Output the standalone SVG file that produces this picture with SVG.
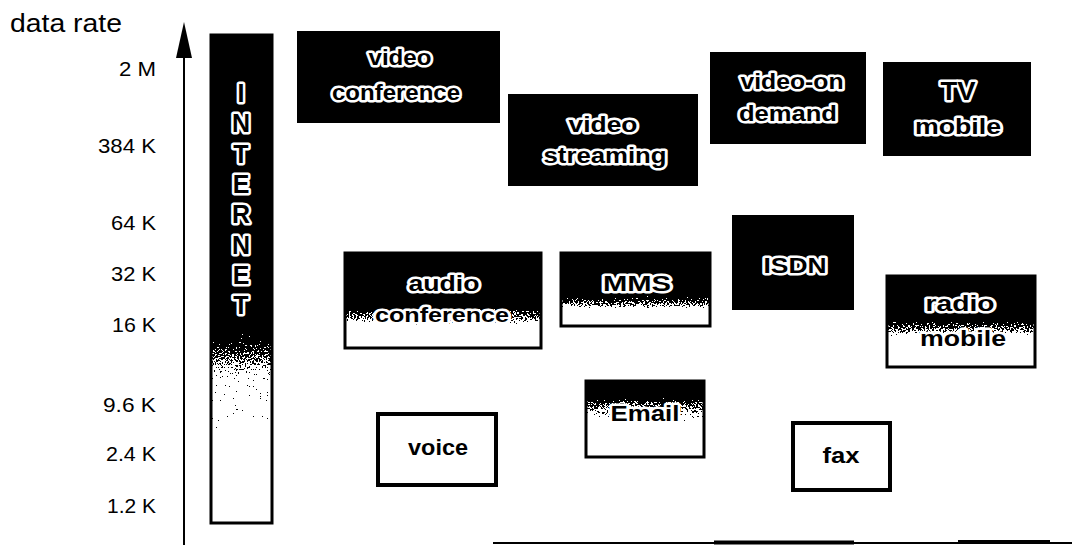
<svg xmlns="http://www.w3.org/2000/svg" width="1072" height="545" viewBox="0 0 1072 545">
  <style>
    .tick { font-family: "Liberation Sans", Arial, sans-serif; font-size: 20px; fill: #000; text-anchor: end; }
    .title { font-family: "Liberation Sans", Arial, sans-serif; font-size: 26px; fill: #000; }
    .lbl { font-family: "Liberation Sans", Arial, sans-serif; font-weight: bold; font-size: 22px; text-anchor: middle;
           fill: #000; stroke: #fff; stroke-width: 5; stroke-linejoin: round; paint-order: stroke; }
    .big { font-size: 25px; }
    .plain { font-family: "Liberation Sans", Arial, sans-serif; font-weight: bold; font-size: 22px; text-anchor: middle; fill: #000; }
    .dark { fill: #000; }
    .frame { fill: none; stroke: #000; stroke-width: 3; }
    .open { fill: #fff; stroke: #000; stroke-width: 4; }
    .axis { stroke: #000; stroke-width: 2; fill: none; }
  </style>
  <defs>
    <!-- dark-to-light fills for the services that span two rate bands -->
    <linearGradient id="gInternet" x1="0" y1="0" x2="0" y2="1">
      <stop offset="0" stop-color="#000"/>
      <stop offset="0.595" stop-color="#000"/>
      <stop offset="0.615" stop-color="#333"/>
      <stop offset="0.65" stop-color="#666"/>
      <stop offset="0.68" stop-color="#999"/>
      <stop offset="0.70" stop-color="#b5b5b5"/>
      <stop offset="0.80" stop-color="#c4c4c4"/>
      <stop offset="0.84" stop-color="#fff"/>
      <stop offset="1" stop-color="#fff"/>
    </linearGradient>
    <linearGradient id="gAudio" x1="0" y1="0" x2="0" y2="1">
      <stop offset="0.54" stop-color="#000"/>
      <stop offset="0.61" stop-color="#595959"/>
      <stop offset="0.70" stop-color="#8c8c8c"/>
      <stop offset="0.79" stop-color="#fff"/>
    </linearGradient>
    <linearGradient id="gMms" x1="0" y1="0" x2="0" y2="1">
      <stop offset="0.56" stop-color="#000"/>
      <stop offset="0.63" stop-color="#595959"/>
      <stop offset="0.72" stop-color="#8c8c8c"/>
      <stop offset="0.81" stop-color="#fff"/>
    </linearGradient>
    <linearGradient id="gRadio" x1="0" y1="0" x2="0" y2="1">
      <stop offset="0.44" stop-color="#000"/>
      <stop offset="0.52" stop-color="#595959"/>
      <stop offset="0.61" stop-color="#8c8c8c"/>
      <stop offset="0.70" stop-color="#fff"/>
    </linearGradient>
    <linearGradient id="gEmail" x1="0" y1="0" x2="0" y2="1">
      <stop offset="0.18" stop-color="#000"/>
      <stop offset="0.28" stop-color="#666"/>
      <stop offset="0.45" stop-color="#a6a6a6"/>
      <stop offset="0.62" stop-color="#fff"/>
    </linearGradient>
    <!-- threshold the grey ramp against noise to get a halftone grain -->
    <filter id="grain" x="0" y="0" width="1" height="1" color-interpolation-filters="sRGB">
      <feTurbulence type="fractalNoise" baseFrequency="0.55" numOctaves="2" seed="7" result="noise"/>
      <feColorMatrix in="noise" type="matrix"
        values="-1 0 0 0 1  -1 0 0 0 1  -1 0 0 0 1  0 0 0 0 1" result="inv"/>
      <feComposite in="SourceGraphic" in2="inv" operator="arithmetic" k1="0" k2="1" k3="1" k4="-0.5" result="sum"/>
      <feComponentTransfer in="sum">
        <feFuncR type="discrete" tableValues="0 1"/>
        <feFuncG type="discrete" tableValues="0 1"/>
        <feFuncB type="discrete" tableValues="0 1"/>
        <feFuncA type="linear" slope="0" intercept="1"/>
      </feComponentTransfer>
    </filter>
  </defs>

  <!-- vertical axis with rate scale -->
  <g id="axis">
    <text class="title" x="10" y="32" textLength="112" lengthAdjust="spacingAndGlyphs">data rate</text>
    <line class="axis" x1="184" y1="50" x2="184" y2="545"/>
    <polygon points="184,22 192,58 176,58" fill="#000"/>
    <text class="tick" x="156" y="76" textLength="37" lengthAdjust="spacingAndGlyphs">2 M</text>
    <text class="tick" x="156" y="153" textLength="58" lengthAdjust="spacingAndGlyphs">384 K</text>
    <text class="tick" x="156" y="230" textLength="45" lengthAdjust="spacingAndGlyphs">64 K</text>
    <text class="tick" x="156" y="281" textLength="45" lengthAdjust="spacingAndGlyphs">32 K</text>
    <text class="tick" x="156" y="332" textLength="44" lengthAdjust="spacingAndGlyphs">16 K</text>
    <text class="tick" x="156" y="412" textLength="53" lengthAdjust="spacingAndGlyphs">9.6 K</text>
    <text class="tick" x="156" y="461" textLength="50" lengthAdjust="spacingAndGlyphs">2.4 K</text>
    <text class="tick" x="156" y="513" textLength="49" lengthAdjust="spacingAndGlyphs">1.2 K</text>
  </g>

  <!-- baseline along the bottom -->
  <g id="baseline">
    <line x1="493" y1="543" x2="1072" y2="543" stroke="#000" stroke-width="2"/>
    <line x1="714" y1="542.5" x2="854" y2="542.5" stroke="#000" stroke-width="4"/>
    <line x1="958" y1="542" x2="1050" y2="542" stroke="#000" stroke-width="4"/>
  </g>

  <!-- Internet spans the whole range -->
  <g id="internet">
    <rect x="211" y="35" width="61" height="488" fill="url(#gInternet)" filter="url(#grain)"/>
    <rect class="frame" x="211" y="35" width="61" height="488"/>
    <text class="lbl big" x="241" y="102">I</text>
    <text class="lbl big" x="241" y="132">N</text>
    <text class="lbl big" x="241" y="163">T</text>
    <text class="lbl big" x="241" y="193">E</text>
    <text class="lbl big" x="241" y="223">R</text>
    <text class="lbl big" x="241" y="254">N</text>
    <text class="lbl big" x="241" y="284">E</text>
    <text class="lbl big" x="241" y="314">T</text>
  </g>

  <g id="video-conference">
    <rect class="dark" x="297" y="31" width="203" height="92"/>
    <text class="lbl" x="400" y="65" textLength="63" lengthAdjust="spacingAndGlyphs">video</text>
    <text class="lbl" x="396" y="100" textLength="128" lengthAdjust="spacingAndGlyphs">conference</text>
  </g>

  <g id="video-streaming">
    <rect class="dark" x="508" y="94" width="190" height="92"/>
    <text class="lbl" x="603" y="132" textLength="69" lengthAdjust="spacingAndGlyphs">video</text>
    <text class="lbl" x="605" y="163" textLength="123" lengthAdjust="spacingAndGlyphs">streaming</text>
  </g>

  <g id="video-on-demand">
    <rect class="dark" x="710" y="52" width="156" height="92"/>
    <text class="lbl" x="792" y="89" textLength="103" lengthAdjust="spacingAndGlyphs">video-on</text>
    <text class="lbl" x="788" y="121" textLength="98" lengthAdjust="spacingAndGlyphs">demand</text>
  </g>

  <g id="tv-mobile">
    <rect class="dark" x="883" y="62" width="148" height="94"/>
    <text class="lbl" x="958" y="100" style="font-size:26px" textLength="35" lengthAdjust="spacingAndGlyphs">TV</text>
    <text class="lbl" x="958" y="134" textLength="86" lengthAdjust="spacingAndGlyphs">mobile</text>
  </g>

  <g id="audio-conference">
    <rect x="345" y="253" width="196" height="95" fill="url(#gAudio)" filter="url(#grain)"/>
    <rect class="frame" x="345" y="253" width="196" height="95"/>
    <text class="lbl" x="444" y="291" textLength="71" lengthAdjust="spacingAndGlyphs">audio</text>
    <text class="lbl" x="442" y="322" style="font-size:20px" textLength="134" lengthAdjust="spacingAndGlyphs">conference</text>
  </g>

  <g id="mms">
    <rect x="561" y="253" width="149" height="73" fill="url(#gMms)" filter="url(#grain)"/>
    <rect class="frame" x="561" y="253" width="149" height="73"/>
    <text class="lbl" x="637" y="291" textLength="68" lengthAdjust="spacingAndGlyphs">MMS</text>
  </g>

  <g id="isdn">
    <rect class="dark" x="732" y="215" width="122" height="95"/>
    <text class="lbl" x="795" y="273" textLength="63" lengthAdjust="spacingAndGlyphs">ISDN</text>
  </g>

  <g id="radio-mobile">
    <rect x="887" y="276" width="148" height="91" fill="url(#gRadio)" filter="url(#grain)"/>
    <rect class="frame" x="887" y="276" width="148" height="91"/>
    <text class="lbl" x="960" y="311" textLength="69" lengthAdjust="spacingAndGlyphs">radio</text>
    <text class="lbl" x="963" y="346" textLength="86" lengthAdjust="spacingAndGlyphs">mobile</text>
  </g>

  <g id="voice">
    <rect class="open" x="378" y="414" width="118" height="71"/>
    <text class="plain" x="438" y="455" textLength="60" lengthAdjust="spacingAndGlyphs">voice</text>
  </g>

  <g id="email">
    <rect x="586" y="381" width="118" height="76" fill="url(#gEmail)" filter="url(#grain)"/>
    <rect class="frame" x="586" y="381" width="118" height="76"/>
    <text class="lbl" x="645" y="421" textLength="69" lengthAdjust="spacingAndGlyphs">Email</text>
  </g>

  <g id="fax">
    <rect class="open" x="793" y="423" width="97" height="67"/>
    <text class="plain" x="841" y="463" textLength="37" lengthAdjust="spacingAndGlyphs">fax</text>
  </g>

  <!-- no connectors between the services -->
  <g id="connectors"/>
</svg>
